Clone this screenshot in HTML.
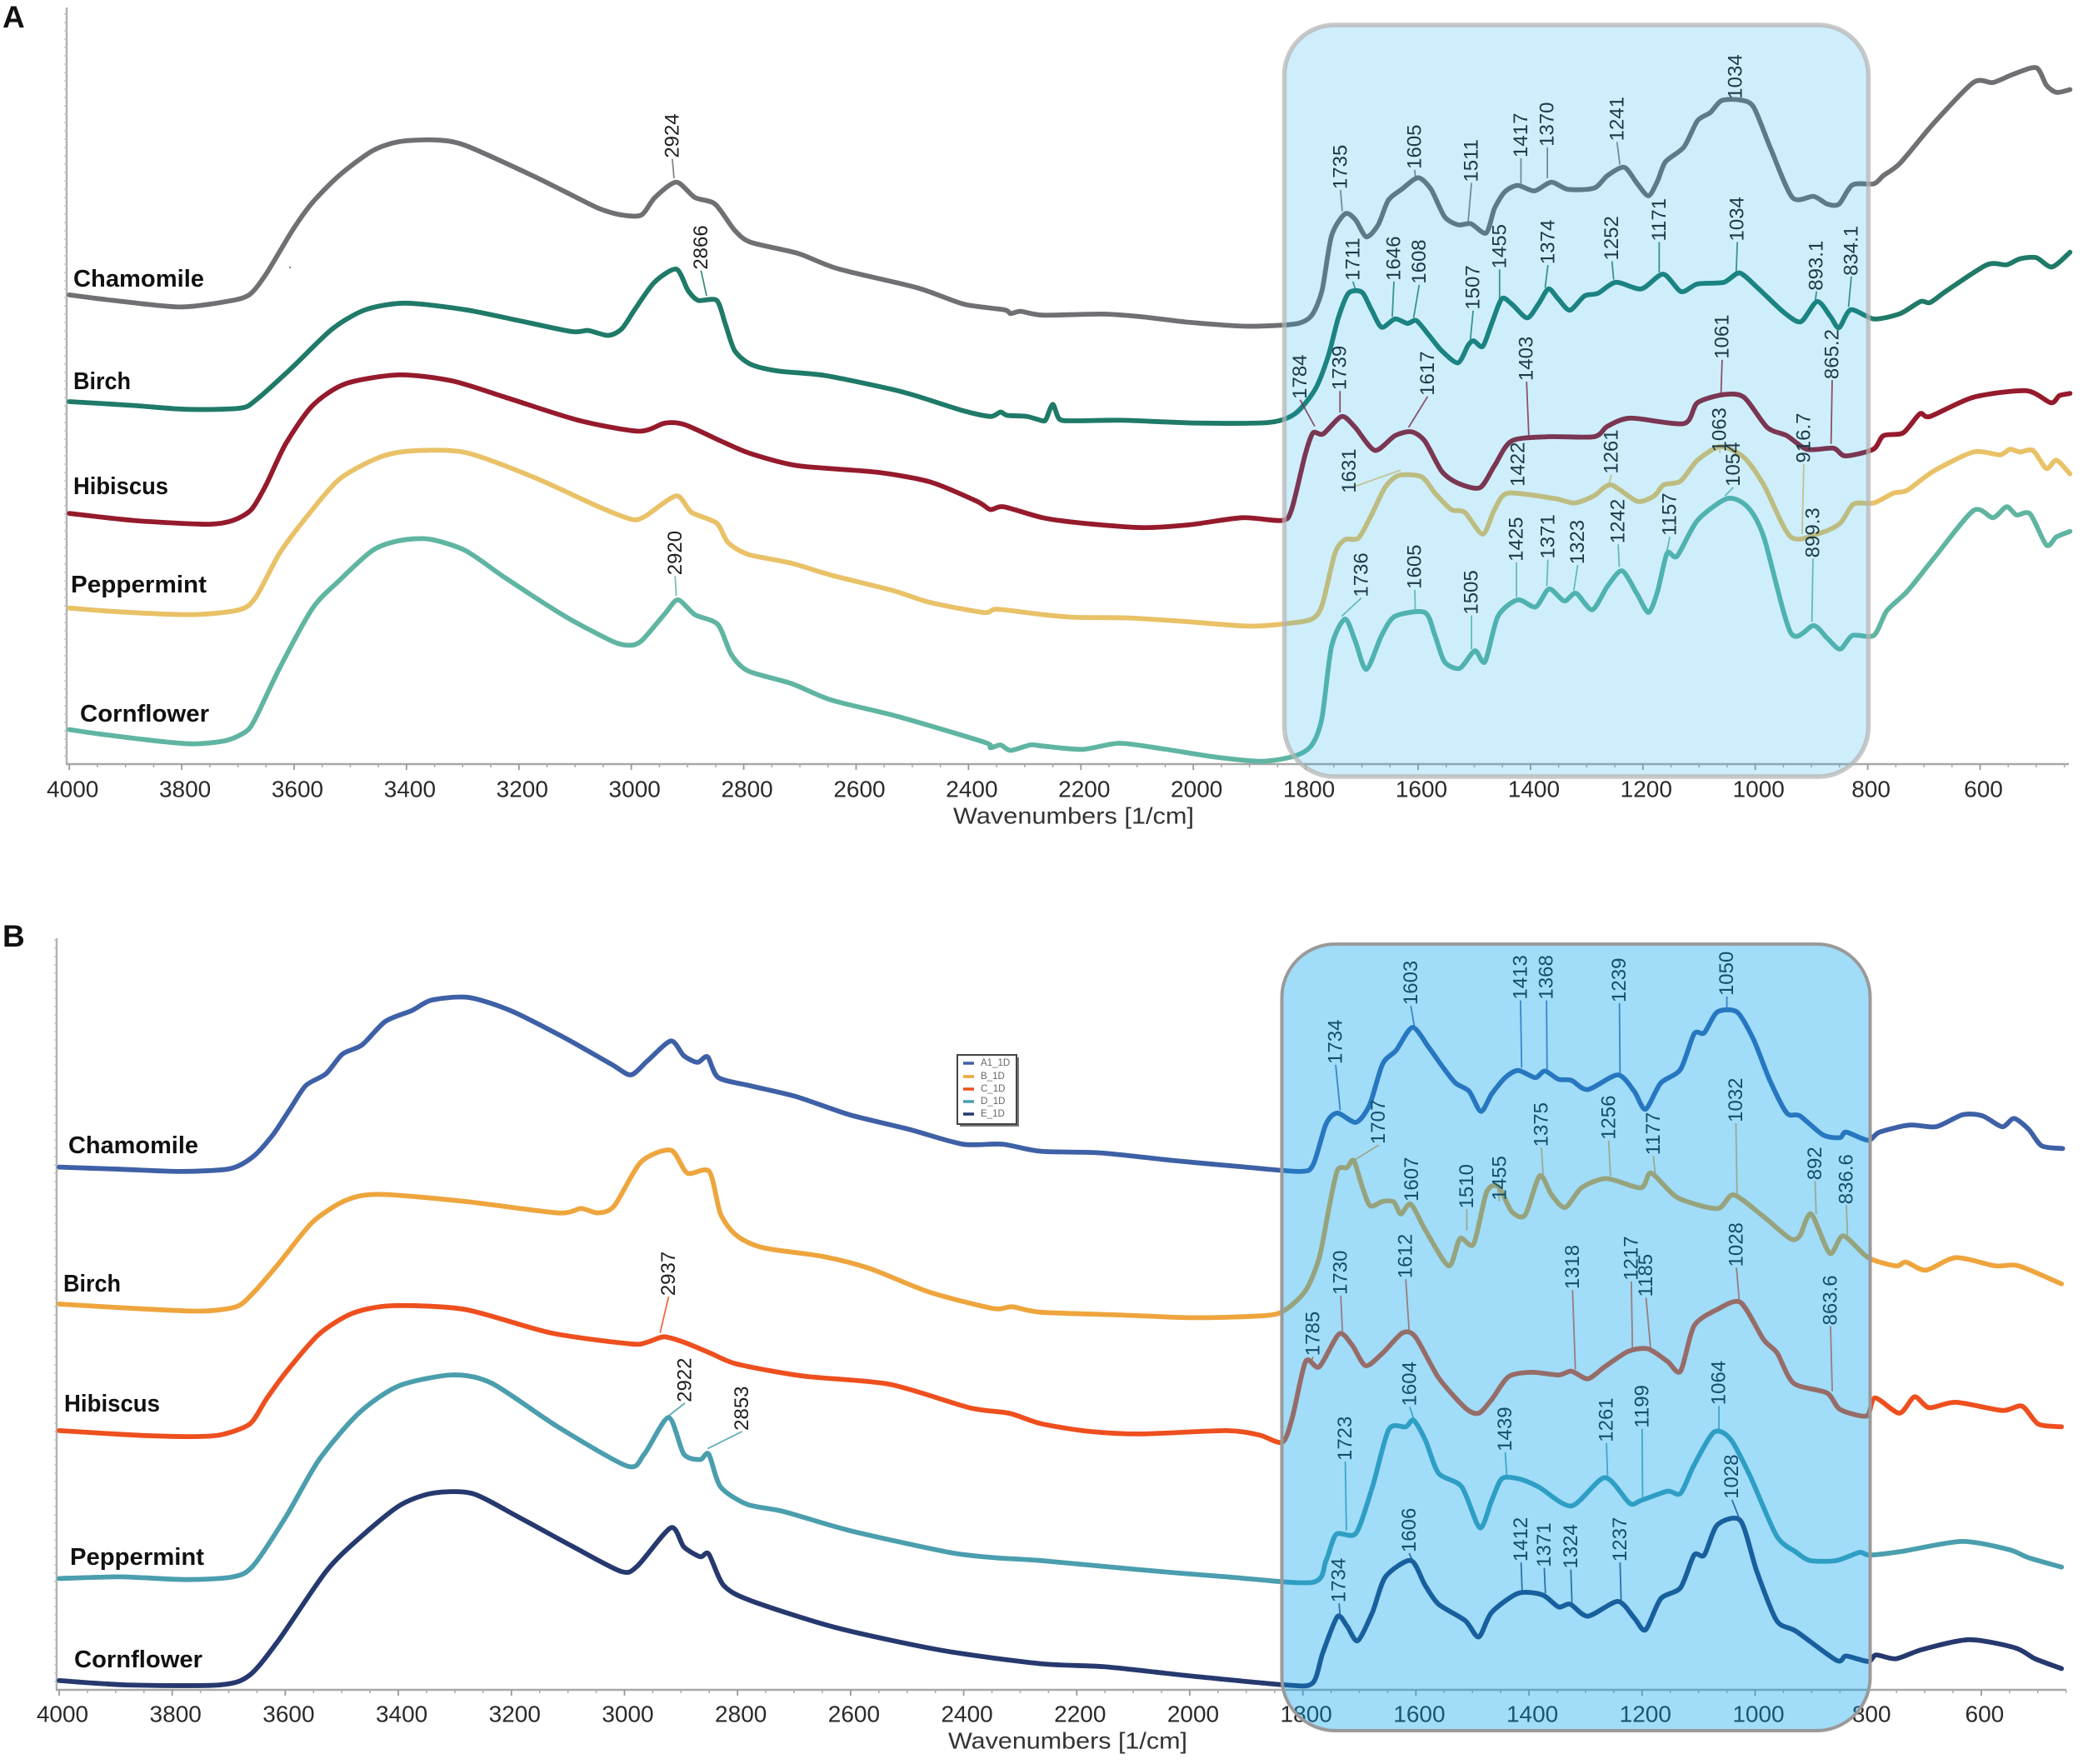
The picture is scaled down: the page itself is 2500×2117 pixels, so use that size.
<!DOCTYPE html>
<html lang="en">
<head>
<meta charset="utf-8">
<title>FTIR spectra of five herbal infusions</title>
<style>
html,body{margin:0;padding:0;background:#fff}
svg{display:block}
text{font-family:"Liberation Sans",sans-serif}
.sample{font-weight:700;font-size:29px;fill:#111;dominant-baseline:central}
.panel{font-weight:700;font-size:37px;fill:#111}
.title{font-size:28px;fill:#333;dominant-baseline:central}
.leg{font-size:11.5px;fill:#666;dominant-baseline:central}
</style>
</head>
<body>
<svg id="figure" xmlns="http://www.w3.org/2000/svg" width="2500" height="2117" viewBox="0 0 2500 2117">
<rect width="2500" height="2117" fill="#fff"/>
<text class="panel" x="3" y="33">A</text>
<text class="panel" x="3" y="1136">B</text>
<g id="panelA"></g>
<g id="panelB"></g>

<text class="sample" x="88" y="335" textLength="157" lengthAdjust="spacingAndGlyphs">Chamomile</text>
<text class="sample" x="88" y="458" textLength="69" lengthAdjust="spacingAndGlyphs">Birch</text>
<text class="sample" x="88" y="584" textLength="114" lengthAdjust="spacingAndGlyphs">Hibiscus</text>
<text class="sample" x="85" y="702" textLength="163" lengthAdjust="spacingAndGlyphs">Peppermint</text>
<text class="sample" x="96" y="857" textLength="155" lengthAdjust="spacingAndGlyphs">Cornflower</text>
<text class="sample" x="82" y="1375" textLength="156" lengthAdjust="spacingAndGlyphs">Chamomile</text>
<text class="sample" x="76" y="1541" textLength="69" lengthAdjust="spacingAndGlyphs">Birch</text>
<text class="sample" x="77" y="1685" textLength="115" lengthAdjust="spacingAndGlyphs">Hibiscus</text>
<text class="sample" x="84" y="1869" textLength="161" lengthAdjust="spacingAndGlyphs">Peppermint</text>
<text class="sample" x="89" y="1992" textLength="154" lengthAdjust="spacingAndGlyphs">Cornflower</text>

<text class="title" x="1144" y="979" textLength="289" lengthAdjust="spacingAndGlyphs">Wavenumbers [1/cm]</text>
<text class="title" x="1138" y="2089" textLength="287" lengthAdjust="spacingAndGlyphs">Wavenumbers [1/cm]</text>

<circle cx="348" cy="321" r="1" fill="#555"/>

<g>
<rect x="1152" y="1269" width="71" height="83" fill="#777"/>
<rect x="1149" y="1266" width="71" height="83" fill="#fff" stroke="#444" stroke-width="2"/>
<line x1="1156" x2="1169" y1="1276" y2="1276" stroke="#3e60a6" stroke-width="3.5"/>
<text class="leg" x="1177" y="1276">A1_1D</text>
<line x1="1156" x2="1169" y1="1292" y2="1292" stroke="#eea53d" stroke-width="3.5"/>
<text class="leg" x="1177" y="1292">B_1D</text>
<line x1="1156" x2="1169" y1="1307" y2="1307" stroke="#ee4f1e" stroke-width="3.5"/>
<text class="leg" x="1177" y="1307">C_1D</text>
<line x1="1156" x2="1169" y1="1322" y2="1322" stroke="#4a9ead" stroke-width="3.5"/>
<text class="leg" x="1177" y="1322">D_1D</text>
<line x1="1156" x2="1169" y1="1337" y2="1337" stroke="#26396f" stroke-width="3.5"/>
<text class="leg" x="1177" y="1337">E_1D</text>
</g>

<rect x="1541.5" y="30" width="701" height="902" rx="60" ry="60" fill="rgb(15,170,235)" fill-opacity="0.2" stroke="#b4b4b4" stroke-opacity="0.72" stroke-width="5.5"/>
<rect x="1538.5" y="1133" width="706" height="944" rx="64" ry="64" fill="rgb(0,160,236)" fill-opacity="0.37" stroke="#9a9a9a" stroke-width="4"/>
</svg>

<script>
// ---------- shared axis ticks ----------
const majorTicks = [4000,3800,3600,3400,3200,3000,2800,2600,2400,2200,2000,1800,1600,1400,1200,1000,800,600];
const minorTicks = [3950,3900,3850,3750,3700,3650,3550,3500,3450,3350,3300,3250,3150,3100,3050,2950,2900,2850,2750,2700,2650,2550,2500,2450,2350,2300,2250,2150,2100,2050,1950,1900,1850,1750,1700,1650,1550,1500,1450,1350,1300,1250,1150,1100,1050,950,900,850,750,700,650,550,500,450];

// ---------- panel A spectra (wavenumber, absorbance a.u.) ----------
const wnAChamomile = [4000,3922,3804,3720,3680,3650,3603,3568,3520,3461,3413,3348,3295,3176,3117,3058,3017,2982,2958,2920,2887,2851,2816,2787,2704,2633,2491,2408,2337,2325,2307,2268,2162,2091,2008,1913,1854,1813,1789,1771,1754,1730,1712,1692,1671,1653,1629,1600,1577,1553,1529,1506,1479,1464,1446,1423,1393,1363,1334,1287,1263,1233,1210,1190,1174,1160,1127,1103,1080,1060,1027,1003,973,934,896,872,851,827,789,772,742,683,612,577,541,500,482,464,440];
const absAChamomile = [857,847,835,845,857,895,975,1025,1075,1120,1137,1140,1130,1075,1045,1015,1003,1003,1035,1063,1035,1023,975,953,933,905,870,840,830,823,827,820,822,817,807,800,801,805,820,865,965,1005,995,963,985,1030,1050,1071,1050,1000,985,987,970,1015,1045,1057,1047,1063,1050,1052,1075,1090,1060,1038,1065,1100,1127,1175,1190,1212,1213,1200,1125,1035,1037,1023,1023,1058,1060,1075,1098,1170,1245,1245,1260,1272,1240,1227,1232];

const wnABirch = [4000,3886,3792,3697,3668,3603,3532,3473,3402,3295,3200,3106,3077,3041,3017,2994,2959,2920,2899,2881,2848,2833,2816,2787,2739,2657,2538,2491,2408,2361,2343,2331,2296,2268,2262,2250,2238,2209,2126,1996,1866,1819,1783,1760,1742,1724,1700,1683,1665,1641,1619,1603,1582,1558,1529,1511,1501,1485,1469,1451,1433,1406,1386,1368,1351,1330,1304,1280,1248,1203,1164,1132,1103,1056,1028,996,949,919,890,866,851,830,789,742,706,689,659,588,553,529,500,472,440];
const absABirch = [662,655,648,650,665,725,795,830,842,830,810,790,792,783,795,830,880,904,865,847,847,805,755,730,718,710,685,672,645,635,643,637,635,627,630,657,630,627,628,623,624,640,685,745,815,860,862,830,798,813,805,810,785,755,733,765,773,763,805,850,840,815,840,868,850,829,855,860,880,868,895,863,877,880,897,870,825,808,845,817,797,830,813,823,845,843,865,912,912,923,925,908,935];

const wnAHibiscus = [4000,3886,3756,3709,3676,3650,3615,3567,3508,3413,3319,3224,3094,2987,2940,2905,2834,2787,2704,2562,2467,2385,2361,2337,2268,2197,2091,2008,1913,1842,1825,1801,1787,1769,1736,1712,1677,1641,1612,1588,1558,1529,1490,1464,1434,1370,1287,1263,1222,1127,1103,1056,1020,979,944,908,861,840,790,772,737,707,689,612,518,474,459,440];
const absAHibiscus = [458,445,438,445,465,510,585,655,695,711,700,670,628,608,623,620,587,567,545,533,515,480,465,470,450,440,432,437,450,445,465,565,605,603,635,615,573,600,607,590,535,513,505,545,590,598,598,617,632,622,660,675,670,615,600,575,577,563,575,600,605,640,635,670,682,660,673,677];

const wnAPeppermint = [4000,3910,3780,3697,3668,3626,3579,3520,3449,3390,3295,3176,3058,2999,2975,2920,2893,2848,2828,2792,2715,2644,2538,2467,2373,2349,2268,2209,2114,2008,1902,1831,1789,1771,1748,1730,1706,1683,1659,1635,1594,1570,1541,1517,1485,1464,1440,1357,1322,1287,1257,1210,1180,1163,1133,1103,1062,1020,985,937,884,849,825,789,754,730,683,612,565,547,529,506,482,464,440];
const absAPeppermint = [285,278,273,282,305,385,450,520,560,572,569,525,470,447,453,490,460,440,405,383,367,345,318,295,277,283,273,268,267,260,252,257,265,290,385,410,413,455,505,527,525,495,465,460,420,465,495,485,477,490,510,480,490,510,517,555,580,560,510,415,422,440,475,477,495,500,535,570,565,575,570,573,540,555,530];

const wnACornflower = [4000,3946,3851,3780,3721,3685,3668,3626,3567,3520,3461,3413,3360,3295,3224,3118,3035,3005,2982,2940,2917,2887,2846,2822,2792,2715,2644,2526,2372,2361,2343,2325,2290,2268,2197,2132,2055,1961,1878,1819,1789,1771,1754,1730,1712,1692,1665,1641,1588,1570,1553,1526,1499,1481,1458,1423,1391,1367,1340,1319,1290,1263,1237,1210,1190,1174,1157,1139,1103,1050,1014,985,937,896,872,849,827,789,766,730,683,612,577,553,535,511,482,464,440];
const absACornflower = [63,55,43,37,43,60,85,175,285,335,390,408,411,390,340,270,225,217,225,275,300,273,255,200,170,147,117,87,40,30,35,25,35,33,27,38,28,13,5,15,35,85,215,265,225,173,235,270,277,235,187,175,207,187,270,300,287,320,298,312,282,325,353,310,277,315,385,380,445,485,470,415,240,253,230,210,235,235,280,315,375,463,450,470,455,457,400,415,425];

// ---------- panel B spectra (wavenumber, absorbance a.u.) ----------
const wnBChamomile = [4000,3892,3786,3698,3657,3622,3593,3564,3528,3499,3464,3423,3376,3341,3276,3200,3106,3024,2989,2960,2918,2895,2871,2853,2834,2778,2696,2602,2496,2402,2332,2264,2158,2029,1912,1806,1782,1759,1739,1706,1682,1659,1635,1606,1577,1553,1530,1506,1485,1466,1442,1419,1389,1372,1348,1325,1296,1243,1214,1194,1167,1132,1108,1090,1067,1032,1003,974,944,921,880,850,839,800,780,727,680,633,598,563,542,516,493,456];
const absBChamomile = [958,954,950,955,977,1017,1062,1107,1129,1165,1182,1225,1245,1264,1269,1244,1195,1147,1127,1152,1189,1162,1150,1160,1122,1107,1087,1054,1027,1000,1000,987,984,970,959,950,962,1037,1057,1040,1072,1147,1172,1214,1177,1142,1112,1097,1060,1092,1122,1135,1122,1134,1119,1117,1100,1127,1097,1064,1112,1137,1202,1204,1242,1242,1192,1117,1057,1052,1017,1012,1022,1007,1022,1035,1032,1054,1052,1032,1047,1027,997,992];

const wnBBirch = [4000,3869,3751,3687,3657,3611,3552,3493,3434,3282,3118,3077,3047,3018,2971,2918,2889,2850,2830,2801,2754,2648,2566,2461,2349,2314,2264,2123,1994,1865,1830,1795,1771,1754,1739,1722,1710,1695,1681,1659,1639,1627,1609,1583,1542,1522,1498,1475,1454,1431,1407,1381,1360,1336,1307,1263,1202,1184,1137,1067,1038,985,938,921,901,868,844,800,751,733,698,645,575,534,458];
const absBBirch = [707,699,694,702,727,782,857,897,908,895,874,882,874,887,967,989,947,950,872,832,810,794,772,729,699,702,692,687,682,686,697,732,792,882,952,957,970,922,887,895,894,872,890,842,777,827,817,912,922,877,870,942,907,884,920,937,920,947,902,882,907,867,827,832,872,800,832,792,777,784,769,792,777,777,744];

const wnBHibiscus = [4000,3869,3775,3716,3663,3634,3599,3540,3481,3411,3282,3130,2989,2960,2930,2895,2848,2801,2684,2531,2390,2320,2264,2181,2088,1935,1877,1836,1818,1795,1771,1736,1713,1689,1659,1624,1601,1560,1513,1489,1466,1436,1395,1348,1325,1296,1266,1225,1190,1155,1132,1108,1067,1026,985,961,932,873,850,803,788,745,718,692,645,563,528,499,458];
const absBHibiscus = [475,467,464,467,487,532,582,652,690,704,697,654,634,637,647,637,617,597,575,560,517,507,488,474,469,475,467,454,502,602,592,652,632,594,617,654,647,572,517,507,532,574,582,577,584,570,592,620,625,602,584,667,697,710,642,617,562,544,514,502,535,507,537,517,527,512,520,487,482];

const wnBPeppermint = [4000,3892,3775,3693,3657,3599,3540,3470,3399,3305,3235,3118,2995,2965,2922,2895,2866,2851,2830,2783,2719,2602,2426,2344,2264,2088,1935,1783,1759,1741,1706,1677,1648,1618,1604,1583,1560,1519,1487,1466,1448,1419,1383,1325,1266,1222,1202,1155,1132,1108,1073,1044,1009,962,927,903,856,815,798,739,634,551,516,458];
const absBPeppermint = [204,207,202,207,227,317,422,507,557,577,562,482,410,432,499,432,422,432,372,340,327,292,252,242,237,220,207,197,237,285,287,372,477,482,494,457,397,372,297,347,387,387,372,337,389,342,347,364,360,412,472,460,392,282,252,237,237,252,247,254,272,257,242,225];

const wnBCornflower = [4000,3880,3716,3663,3611,3528,3470,3399,3341,3270,3188,3094,3006,2977,2918,2895,2866,2851,2825,2778,2626,2437,2264,2147,1995,1831,1783,1765,1739,1722,1703,1677,1654,1609,1584,1560,1513,1489,1466,1419,1376,1348,1327,1296,1243,1214,1194,1167,1132,1108,1090,1067,1026,997,962,927,856,839,800,786,751,704,622,540,505,458];
const absBCornflower = [17,9,9,27,92,217,277,337,360,360,317,264,217,227,297,262,244,249,192,164,114,72,48,42,25,9,12,67,134,117,90,142,207,237,192,157,127,97,142,177,174,152,157,135,162,132,110,167,187,247,247,302,310,217,127,107,54,62,52,64,57,74,92,77,57,39];

// ---------- peak annotations: text, tip abs, label-base abs, label shift (cm-1), [leader shift, leader abs] ----------
const peaksAChamomile = [["2924",1070,1107,3],["1735",1010,1050,3],["1605",1073,1087,1],["1511",990,1063,-6],["1417",1060,1108,0],["1370",1070,1128,0],["1241",1095,1138,5],["1034",1213,1215,1]];
const peaksABirch = [["2866",855,903,10],["1711",865,883,5],["1646",817,883,-3],["1608",815,877,-10],["1507",775,830,-5],["1455",850,905,0],["1374",870,913,-5],["1252",885,920,3],["1171",898,955,0],["1034",898,955,-2],["893.1",847,865,-2],["834.1",835,892,-5]];
const peaksAHibiscus = [["1784",617,667,26],["1739",642,683,0],["1617",615,673,-34],["1403",600,700,4],["1061",677,740,-2],["865.2",585,703,-2]];
const peaksAPeppermint = [["1631",537,495,91,82,507],["1422",505,507,0],["1261",510,530,-5],["1063",580,570,0],["916.7",420,550,-3]];
const peaksACornflower = [["2920",307,345,2],["1736",270,305,-35],["1605",283,320,1],["1505",210,273,0],["1425",305,370,0],["1371",325,375,-2],["1323",317,365,-7],["1242",360,403,2],["1157",390,417,-5],["1054",490,507,-15],["899.3",260,377,-2]];

const peaksBChamomile = [["1734",1062,1147,8],["1603",1217,1255,6],["1413",1140,1265,2],["1368",1135,1265,1],["1239",1127,1260,1],["1050",1242,1272,0]];
const peaksBBirch = [["1707",972,1000,-41],["1607",887,895,0],["1510",842,882,0],["1455",917,897,-3],["1375",942,995,3],["1256",942,1008,3],["1177",947,980,3],["1032",907,1040,2],["892",872,934,2],["836.6",832,890,2]];
const peaksBHibiscus = [["2937",654,722,-15],["1785",602,612,-3],["1730",657,724,3],["1612",657,754,6],["1318",587,734,5],["1217",624,750,2],["1185",627,720,8],["1028",712,775,5],["863.6",547,668,3]];
const peaksBPeppermint = [["2922",502,527,-29],["2853",442,475,-61],["1723",292,420,2],["1604",497,520,7],["1439",387,437,3],["1261",392,454,2],["1199",347,480,1],["1064",472,522,0]];
const peaksBCornflower = [["1734",134,160,2],["1606",237,252,6],["1412",177,235,2],["1371",177,225,2],["1324",160,222,2],["1237",164,235,2],["1028",314,350,13]];

// ---------- panel definitions ----------
const panelA = {
  id: 'panelA', key: 'a', x0: 83.2, kx: 0.6745, y0: 917, ky: 1 / 1.522, yAxisX: 80, yTop: 9, xEnd: 2483, tickLabelY: 947,
  series: [
    { name: 'chamomile', wn: wnAChamomile, abs: absAChamomile, peaks: peaksAChamomile, color: '#6f7073' },
    { name: 'birch', wn: wnABirch, abs: absABirch, peaks: peaksABirch, color: '#1f7a68' },
    { name: 'hibiscus', wn: wnAHibiscus, abs: absAHibiscus, peaks: peaksAHibiscus, color: '#951a2c' },
    { name: 'peppermint', wn: wnAPeppermint, abs: absAPeppermint, peaks: peaksAPeppermint, color: '#e9c167' },
    { name: 'cornflower', wn: wnACornflower, abs: absACornflower, peaks: peaksACornflower, color: '#5fb5a2' }
  ]
};
const panelB = {
  id: 'panelB', key: 'b', x0: 71, kx: 0.6785, y0: 2028, ky: 1 / 1.527, yAxisX: 68, yTop: 1126, xEnd: 2480, tickLabelY: 2057,
  series: [
    { name: 'chamomile', wn: wnBChamomile, abs: absBChamomile, peaks: peaksBChamomile, color: '#3e60a6' },
    { name: 'birch', wn: wnBBirch, abs: absBBirch, peaks: peaksBBirch, color: '#eea53d' },
    { name: 'hibiscus', wn: wnBHibiscus, abs: absBHibiscus, peaks: peaksBHibiscus, color: '#ee4f1e' },
    { name: 'peppermint', wn: wnBPeppermint, abs: absBPeppermint, peaks: peaksBPeppermint, color: '#4a9ead' },
    { name: 'cornflower', wn: wnBCornflower, abs: absBCornflower, peaks: peaksBCornflower, color: '#26396f' }
  ]
};

const NS = 'http://www.w3.org/2000/svg';
function make(tag, parent, attrs) {
  const node = document.createElementNS(NS, tag);
  for (const k in attrs) node.setAttribute(k, attrs[k]);
  parent.appendChild(node);
  return node;
}

function smoothPath(pts) {
  let d = 'M' + pts[0][0].toFixed(1) + ' ' + pts[0][1].toFixed(1);
  const t = 0.13;
  for (let i = 0; i < pts.length - 1; i++) {
    const p0 = pts[Math.max(i - 1, 0)], p1 = pts[i], p2 = pts[i + 1], p3 = pts[Math.min(i + 2, pts.length - 1)];
    const c1x = p1[0] + (p2[0] - p0[0]) * t, c1y = p1[1] + (p2[1] - p0[1]) * t;
    const c2x = p2[0] - (p3[0] - p1[0]) * t, c2y = p2[1] - (p3[1] - p1[1]) * t;
    d += 'C' + c1x.toFixed(1) + ' ' + c1y.toFixed(1) + ' ' + c2x.toFixed(1) + ' ' + c2y.toFixed(1) + ' ' + p2[0].toFixed(1) + ' ' + p2[1].toFixed(1);
  }
  return d;
}

function drawPanel(p) {
  const root = document.getElementById(p.id);
  const xScale = w => p.x0 + (4000 - w) * p.kx;
  const yScale = v => p.y0 - v * p.ky;

  // axes
  const yAxis = make('line', root, { x1: p.yAxisX, x2: p.yAxisX, y1: p.yTop, y2: p.y0, stroke: '#b2b2b2', 'stroke-width': 2.5 });
  
  
  const xAxis = make('line', root, { x1: p.yAxisX - 1, x2: p.xEnd, y1: p.y0, y2: p.y0, stroke: '#a8a8a8', 'stroke-width': 2.5 });
  
  

  // y minor ticks
  for (let y = p.y0 - 10; y > p.yTop; y -= 10) {
    const yt = make('line', root, { x1: p.yAxisX - 3, x2: p.yAxisX, y1: y, y2: y, stroke: '#c4c4c4', 'stroke-width': 1.5 });
    
    
  }

  // x ticks
  majorTicks.forEach(w => {
    const tick = make('line', root, { x1: xScale(w), x2: xScale(w), y1: p.y0, y2: p.y0 + 7, stroke: '#999', 'stroke-width': 1.8 });
    
    
    const lab = make('text', root, { x: xScale(w) + 4, y: p.tickLabelY, 'text-anchor': 'middle', 'dominant-baseline': 'central', 'font-size': 28, fill: '#2a2a2a' });
    lab.textContent = String(w);
    
    
  });
  minorTicks.forEach(w => {
    const tick = make('line', root, { x1: xScale(w), x2: xScale(w), y1: p.y0, y2: p.y0 + 4, stroke: '#aaa', 'stroke-width': 1.5 });
    
    
  });

  // spectra
  p.series.forEach(s => {
    const pts = s.wn.map((w, i) => [xScale(w), yScale(s.abs[i])]);
    const path = make('path', root, { d: smoothPath(pts), fill: 'none', stroke: s.color, 'stroke-width': 5.8, 'stroke-linejoin': 'round', 'stroke-linecap': 'round' });
    
    
  });

  // peak annotations
  p.series.forEach(s => {
    s.peaks.forEach(row => {
      const tipW = parseFloat(row[0]);
      const tx = xScale(tipW), ty = yScale(row[1]);
      const lx = xScale(tipW + row[3]), ly = yScale(row[2]);
      const ex = row.length > 4 ? xScale(tipW + row[4]) : lx;
      const ey = row.length > 4 ? yScale(row[5]) : ly + 1;
      const leader = make('line', root, { x1: tx, y1: ty, x2: ex, y2: ey, stroke: s.color, 'stroke-width': 1.8, 'stroke-opacity': 0.85 });
      
      
      const label = make('text', root, { x: lx, y: ly, 'text-anchor': 'start', 'dominant-baseline': 'central', 'font-size': 24, fill: '#1e1e1e', transform: 'rotate(-90 ' + lx.toFixed(1) + ' ' + ly.toFixed(1) + ')' });
      label.textContent = row[0];
      
      
    });
  });
}

drawPanel(panelA);
drawPanel(panelB);
</script>
</body>
</html>
